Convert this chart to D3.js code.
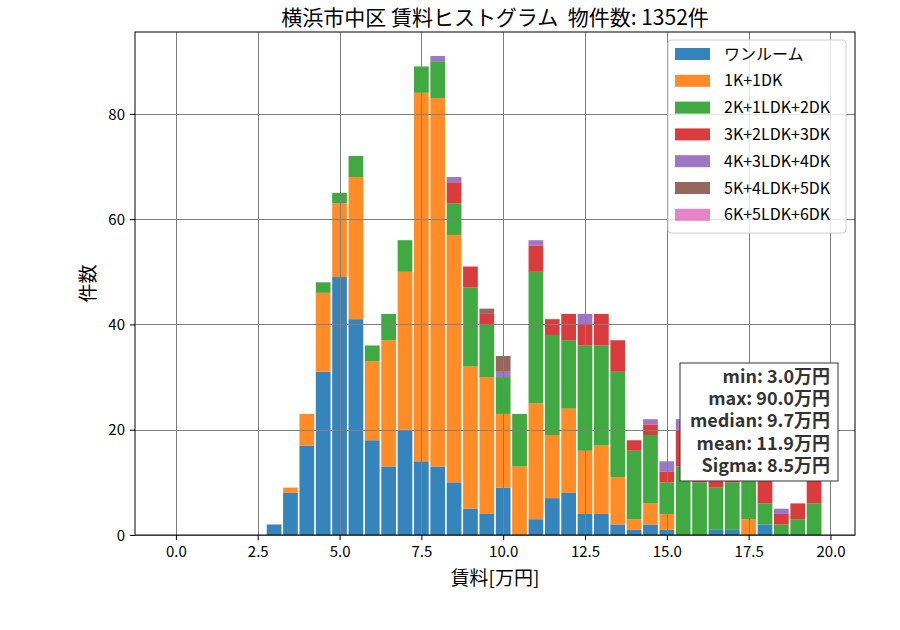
<!DOCTYPE html>
<html>
<head>
<meta charset="utf-8">
<script src="https://cdn.jsdelivr.net/npm/d3@7"></script>
<style>
  body { margin: 0; background: #fff; }
  text { font-family: "Noto Sans CJK JP", "Noto Sans", sans-serif; }
</style>
</head>
<body>
<div id="chart"></div>
<script>
// --------------------------------------------------------
// DATA
// --------------------------------------------------------
const binCenters = [3.0, 3.5, 4.0, 4.5, 5.0, 5.5, 6.0, 6.5, 7.0, 7.5, 8.0, 8.5, 9.0, 9.5, 10.0, 10.5, 11.0,
  11.5, 12.0, 12.5, 13.0, 13.5, 14.0, 14.5, 15.0, 15.5, 16.0, 16.5, 17.0, 17.5, 18.0, 18.5, 19.0, 19.5];
const binWidth = 0.5;

const seriesNames = ["ワンルーム", "1K+1DK", "2K+1LDK+2DK", "3K+2LDK+3DK", "4K+3LDK+4DK", "5K+4LDK+5DK", "6K+5LDK+6DK"];
const oneRoom = [2, 8, 17, 31, 49, 41, 18, 13, 20, 14, 13, 10, 5, 4, 9, 0, 3, 7, 8, 4, 4, 2, 1, 2, 1, 0, 0, 1, 1, 0, 2, 0, 0, 0];
const k1 = [0, 1, 6, 15, 14, 27, 15, 24, 30, 70, 70, 47, 27, 26, 14, 13, 22, 12, 16, 12, 13, 9, 2, 4, 3, 0, 0, 0, 0, 3, 0, 0, 0, 0];
const k2 = [0, 0, 0, 2, 2, 4, 3, 5, 6, 5, 7, 6, 15, 10, 7, 10, 25, 19, 13, 20, 19, 20, 13, 13, 6, 13, 10, 8, 9, 12, 4, 2, 3, 6];
const k3 = [0, 0, 0, 0, 0, 0, 0, 0, 0, 0, 0, 4, 4, 2, 0, 0, 5, 3, 5, 4, 6, 6, 2, 2, 2, 7, 8, 7, 6, 3, 7, 2, 3, 6];
const k4 = [0, 0, 0, 0, 0, 0, 0, 0, 0, 0, 1, 1, 0, 0, 1, 0, 1, 0, 0, 2, 0, 0, 0, 1, 2, 2, 0, 0, 0, 0, 0, 1, 0, 0];
const k5 = [0, 0, 0, 0, 0, 0, 0, 0, 0, 0, 0, 0, 0, 1, 3, 0, 0, 0, 0, 0, 0, 0, 0, 0, 0, 0, 0, 0, 0, 0, 0, 0, 0, 0];
const k6 = [0, 0, 0, 0, 0, 0, 0, 0, 0, 0, 0, 0, 0, 0, 0, 0, 0, 0, 0, 0, 0, 0, 0, 0, 0, 0, 0, 0, 0, 0, 0, 0, 0, 0];
const seriesValues = [oneRoom, k1, k2, k3, k4, k5, k6];

const colors = ["#1f77b4", "#ff7f0e", "#2ca02c", "#d62728", "#9467bd", "#8c564b", "#e377c2"];
const xTicks = [0, 2.5, 5, 7.5, 10, 12.5, 15, 17.5, 20];
const yTicks = [0, 20, 40, 60, 80];
const statLines = ["min: 3.0万円", "max: 90.0万円", "median: 9.7万円", "mean: 11.9万円", "Sigma: 8.5万円"];

const titleText = "横浜市中区 賃料ヒストグラム  物件数: 1352件";
const xLabel = "賃料[万円]";
const yLabel = "件数";

// --------------------------------------------------------
// LAYOUT
// --------------------------------------------------------
const width = 900;
const height = 630;
const margin = { top: 32, right: 45, bottom: 95, left: 135 };
const innerW = width - margin.left - margin.right;
const innerH = height - margin.top - margin.bottom;

const svg = d3.select("#chart").append("svg")
  .attr("width", width)
  .attr("height", height);

const g = svg.append("g").attr("transform", `translate(${margin.left},${margin.top})`);

// build stacked table
const table = binCenters.map((c, i) => {
  const row = { center: c };
  seriesNames.forEach((s, j) => { row[s] = seriesValues[j][i]; });
  return row;
});
const stacked = d3.stack().keys(seriesNames)(table);
const maxTotal = d3.max(table, d => d3.sum(seriesNames, s => d[s]));

// matplotlib-like margins: 5% on x, top 5% on y
const xMin = -0.25, xMax = 19.75;
const pad = (xMax - xMin) * 0.05;
const x = d3.scaleLinear().domain([xMin - pad, xMax + pad]).range([0, innerW]);
const y = d3.scaleLinear().domain([0, maxTotal * 1.05]).range([innerH, 0]);

// bars
const barW = binWidth * 0.9;
g.append("g").selectAll("g")
  .data(stacked)
  .join("g")
  .attr("fill", (d, i) => colors[i])
  .attr("fill-opacity", 0.9)
  .selectAll("rect")
  .data(d => d.filter(p => p[1] > p[0]))
  .join("rect")
  .attr("x", d => x(d.data.center - barW / 2))
  .attr("width", d => x(d.data.center + barW / 2) - x(d.data.center - barW / 2))
  .attr("y", d => y(d[1]))
  .attr("height", d => y(d[0]) - y(d[1]));

// grid (drawn over the bars, like the reference)
const grid = g.append("g").attr("stroke", "#808080").attr("stroke-width", 1);
grid.selectAll(".gx").data(xTicks).join("line")
  .attr("x1", d => Math.round(x(d)) + 0.5).attr("x2", d => Math.round(x(d)) + 0.5)
  .attr("y1", 0).attr("y2", innerH);
grid.selectAll(".gy").data(yTicks).join("line")
  .attr("x1", 0).attr("x2", innerW)
  .attr("y1", d => Math.round(y(d)) + 0.5).attr("y2", d => Math.round(y(d)) + 0.5);

// axes
const xAxis = g.append("g").attr("transform", `translate(0,${innerH})`)
  .call(d3.axisBottom(x).tickValues(xTicks).tickFormat(d3.format(".1f")).tickSizeOuter(0).tickSize(5));
const yAxis = g.append("g")
  .call(d3.axisLeft(y).tickValues(yTicks).tickFormat(d3.format("d")).tickSizeOuter(0).tickSize(5));
[xAxis, yAxis].forEach(a => {
  a.select(".domain").remove();
  a.selectAll("text").attr("font-size", 15).attr("fill", "#000")
    .attr("font-family", "'Noto Sans CJK JP', sans-serif");
  a.selectAll("line").attr("stroke", "#000");
});
xAxis.selectAll("text").attr("dy", "0.95em");
yAxis.selectAll("text").attr("dx", "-2").attr("dy", "0.35em");

// frame
g.append("rect")
  .attr("width", innerW).attr("height", innerH)
  .attr("fill", "none").attr("stroke", "#000").attr("stroke-width", 1);

// title and labels
svg.append("text")
  .attr("x", margin.left + innerW / 2).attr("y", 25)
  .attr("text-anchor", "middle").attr("font-size", 21)
  .attr("xml:space", "preserve")
  .text(titleText);
svg.append("text")
  .attr("x", margin.left + innerW / 2).attr("y", 585)
  .attr("text-anchor", "middle").attr("font-size", 19)
  .text(xLabel);
svg.append("text")
  .attr("transform", `translate(95,${margin.top + innerH / 2}) rotate(-90)`)
  .attr("text-anchor", "middle").attr("font-size", 19)
  .text(yLabel);

// legend
const legend = g.append("g").attr("transform", `translate(${innerW - 187},8)`);
legend.append("rect")
  .attr("width", 178).attr("height", 193).attr("rx", 3)
  .attr("fill", "#fff").attr("fill-opacity", 0.8)
  .attr("stroke", "#d0d0d0");
const items = legend.selectAll(".item").data(seriesNames).join("g")
  .attr("transform", (d, i) => `translate(7,${8 + i * 26.8})`);
items.append("rect")
  .attr("width", 35).attr("height", 12)
  .attr("fill", (d, i) => colors[i]).attr("fill-opacity", 0.9);
items.append("text")
  .attr("x", 49).attr("y", 6).attr("dy", "0.35em")
  .attr("font-size", 16)
  .text(d => d);

// stats box
const stats = g.append("g").attr("transform", `translate(${680 - margin.left},${363 - margin.top})`);
stats.append("rect")
  .attr("width", 158).attr("height", 118)
  .attr("fill", "#fff").attr("stroke", "#333").attr("stroke-width", 1);
stats.selectAll("text").data(statLines).join("text")
  .attr("x", 150).attr("y", (d, i) => 20 + i * 22.2)
  .attr("text-anchor", "end").attr("font-size", 18).attr("font-weight", "bold")
  .attr("fill", "#333")
  .text(d => d);
</script>
</body>
</html>
